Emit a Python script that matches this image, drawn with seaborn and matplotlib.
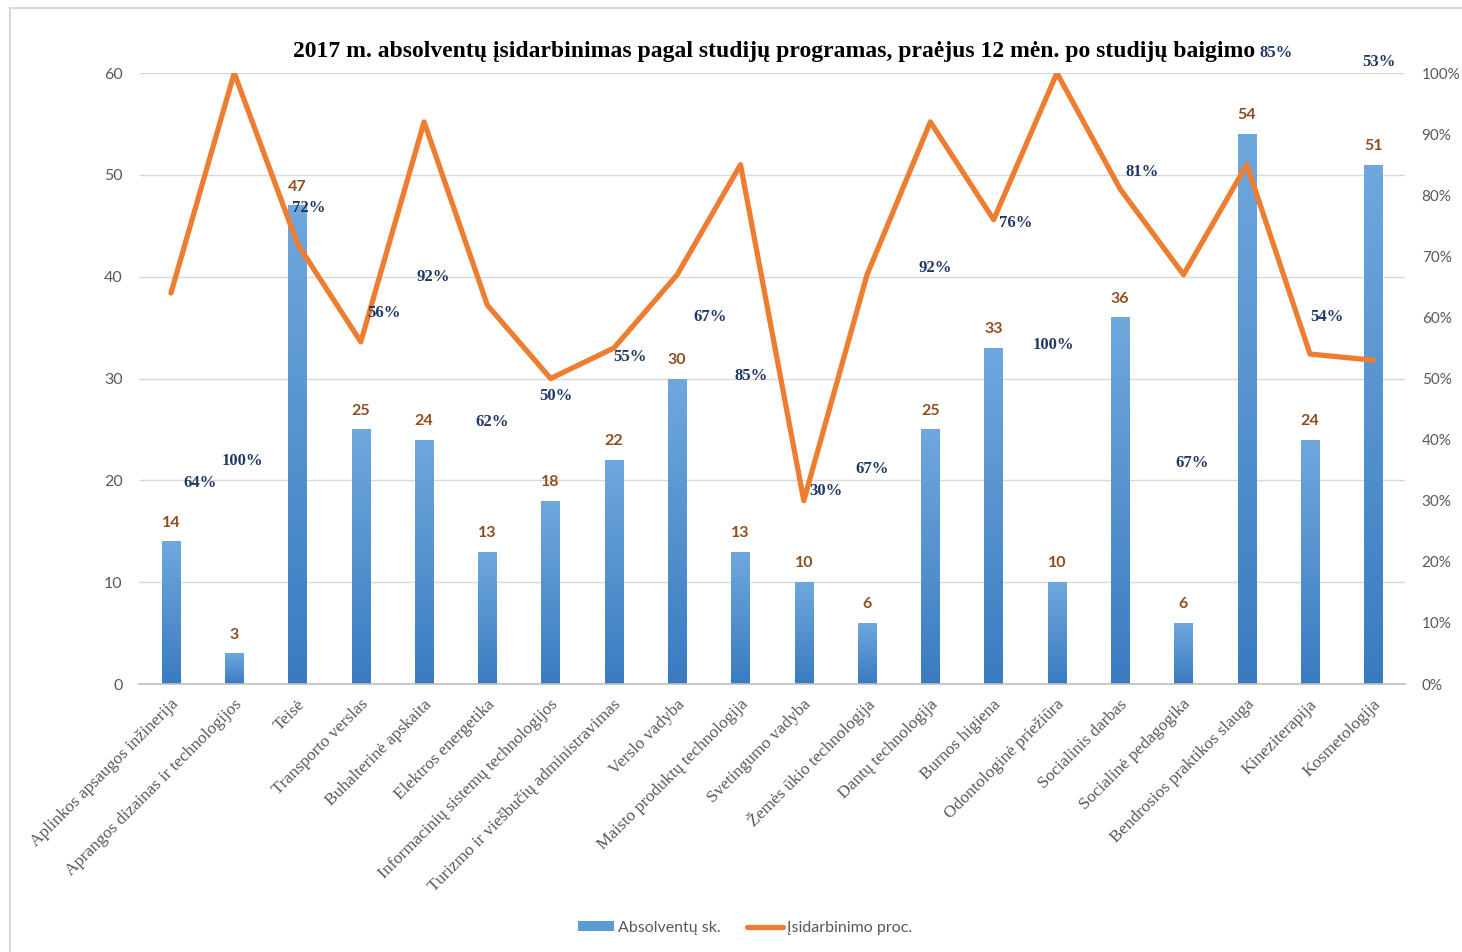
import numpy as np
import pandas as pd

import matplotlib.pyplot as plt
from matplotlib.patches import Rectangle
from matplotlib.lines import Line2D
from matplotlib.colors import LinearSegmentedColormap
from matplotlib.transforms import ScaledTranslation
import seaborn as sns

# %% data
programs = [
    "Aplinkos apsaugos inžinerija",
    "Aprangos dizainas ir technologijos",
    "Teisė",
    "Transporto verslas",
    "Buhalterinė apskaita",
    "Elektros energetika",
    "Informacinių sistemų technologijos",
    "Turizmo ir viešbučių administravimas",
    "Verslo vadyba",
    "Maisto produktų technologija",
    "Svetingumo vadyba",
    "Žemės ūkio technologija",
    "Dantų technologija",
    "Burnos higiena",
    "Odontologinė priežiūra",
    "Socialinis darbas",
    "Socialinė pedagogika",
    "Bendrosios praktikos slauga",
    "Kineziterapija",
    "Kosmetologija",
]
graduates = [14, 3, 47, 25, 24, 13, 18, 22, 30, 13, 10, 6, 25, 33, 10, 36, 6, 54, 24, 51]
employed_pct = [64, 100, 72, 56, 92, 62, 50, 55, 67, 85, 30, 67, 92, 76, 100, 81, 67, 85, 54, 53]

# where the percent labels ended up: shift from the category, height on left axis
pct_label_dx = [0.46, 0.13, 0.17, 0.36, 0.14, 0.08, 0.09, 0.25, 0.52, 0.17,
                0.35, 0.08, 0.08, 0.35, -0.05, 0.35, 0.14, 0.47, 0.27, 0.09]
pct_label_y = [19.7, 21.9, 46.7, 36.4, 40.0, 25.7, 28.3, 32.1, 36.0, 30.2,
               19.0, 21.1, 40.9, 45.3, 33.3, 50.3, 21.7, 62.0, 36.0, 61.1]

title = "2017 m. absolventų įsidarbinimas pagal studijų programas, praėjus 12 mėn. po studijų baigimo"

df = pd.DataFrame({"program": programs, "graduates": graduates, "pct": employed_pct})

# %% style
sns.set_style("white")
plt.rcParams["font.family"] = ["Lato", "DejaVu Sans"]
serif = ["Liberation Serif", "DejaVu Serif"]
grey = "#595959"
blue = "#5B9BD5"
orange = "#ED7D31"

fig = plt.figure(figsize=(14.62, 9.52), dpi=100)
ax = fig.add_axes([0.0953, 0.2815, 0.8657, 0.6418])

sns.barplot(data=df, x="program", y="graduates", color=blue, width=0.29,
            saturation=1, ax=ax, zorder=2)

# vertical gradient on the bars
cmap = LinearSegmentedColormap.from_list("bars", ["#3A7BC0", "#6FA8DD"])
grad = np.linspace(0, 1, 256).reshape(-1, 1)
for p in list(ax.patches):
    x0, y0, w, h = p.get_x(), p.get_y(), p.get_width(), p.get_height()
    im = ax.imshow(grad, extent=[x0, x0 + w, y0, y0 + h], origin="lower",
                   aspect="auto", cmap=cmap, zorder=2.1)
    im.set_clip_path(p)
    p.set_facecolor("none")
    p.set_edgecolor("none")

n = len(programs)
ax.set_xlim(-0.5, n - 0.5)
ax.set_ylim(0, 60)
ax.set_yticks(range(0, 61, 10))
ax.yaxis.grid(True, color="#D9D9D9", lw=1, zorder=0)
ax.set_axisbelow(True)
ax.set_xlabel("")
ax.set_ylabel("")
sns.despine(ax=ax, left=True, top=True, right=True)
ax.spines["bottom"].set_color("#BFBFBF")
ax.spines["bottom"].set_linewidth(1.2)
ax.tick_params(axis="y", length=0, pad=12, labelsize=11.5, labelcolor=grey)
ax.tick_params(axis="x", length=0, pad=13)
ax.set_xticks(range(n))
ax.set_xticklabels(programs, rotation=45, ha="right", va="center",
                   rotation_mode="anchor", fontfamily=serif, fontsize=12.5, color=grey)
shift = ScaledTranslation(5 / 100, 0, fig.dpi_scale_trans)
for lab in ax.get_xticklabels():
    lab.set_transform(lab.get_transform() + shift)

# %% employment line on right axis
ax2 = ax.twinx()
sns.lineplot(x=np.arange(n), y=df["pct"], ax=ax2, color=orange, lw=3.8, zorder=3)
ax2.set_ylim(0, 100)
ax2.set_yticks(range(0, 101, 10))
ax2.set_yticklabels([f"{v}%" for v in range(0, 101, 10)])
ax2.set_ylabel("")
ax2.tick_params(axis="y", length=0, pad=12, labelsize=11, labelcolor=grey)
for s in ax2.spines.values():
    s.set_visible(False)

# %% labels
for i, v in enumerate(graduates):
    ax2.annotate(str(v), xy=(i, v), xycoords=ax.transData, xytext=(0, 13.5),
                 textcoords="offset points", ha="center", va="center",
                 fontsize=11.5, fontweight="bold", color="#8F4E20", zorder=5)

for i, v in enumerate(employed_pct):
    ax2.text(i + pct_label_dx[i], pct_label_y[i], f"{v}%", transform=ax.transData,
             ha="center", va="center", fontfamily=serif, fontsize=12,
             fontweight="bold", color="#1F3864", zorder=5)

fig.text(774 / 1462, 1 - 52 / 952, title, ha="center", va="center",
         fontfamily=serif, fontweight="bold", fontsize=17, color="black")

handles = [Rectangle((0, 0), 1, 1, facecolor=blue, edgecolor="none"),
           Line2D([0], [0], color=orange, lw=3.8)]
fig.legend(handles, ["Absolventų sk.", "Įsidarbinimo proc."], loc="center",
           bbox_to_anchor=(745 / 1462, 1 - 928 / 952), ncol=2, frameon=False,
           fontsize=11.5, labelcolor=grey, handlelength=2.3, handleheight=0.6,
           handletextpad=0.25, columnspacing=1.6)

# outer chart border
fig.add_artist(Rectangle((10 / 1462, -0.1), 1.2, 1.1 - 8 / 952, transform=fig.transFigure,
                         fill=False, edgecolor="#D9D9D9", lw=1.5))

fig.savefig("out.png", dpi=100)
